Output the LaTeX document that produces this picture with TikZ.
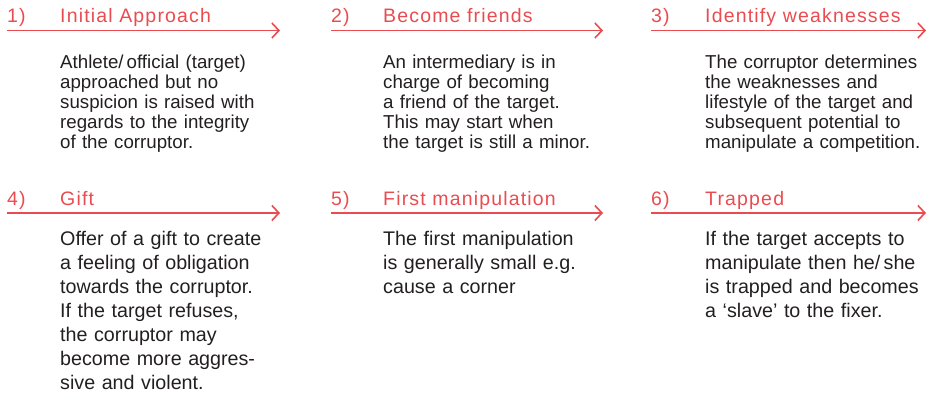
\documentclass[tikz,border=0pt]{standalone}
\usepackage{fontspec}
\setmainfont{Liberation Sans}
\newfontfamily\headfont[LetterSpace=6]{Liberation Sans}
\usetikzlibrary{positioning,arrows.meta}
\definecolor{fixred}{RGB}{233,76,80}
\definecolor{fixtext}{RGB}{35,31,32}

\begin{document}
\begin{tikzpicture}[
    x=1pt, y=-1pt,
    num/.style={%
      anchor=base west,
      inner sep=0pt,
      text=fixred,
      font=\headfont\fontsize{19.5}{22}\selectfont,
    },
    head/.style={num},
    body/.style={%
      anchor=base west,
      inner sep=0pt,
      text=fixtext,
      text width=240pt,
      align=left,
      font=\fontsize{18.7}{20}\selectfont,
    },
    bodylow/.style={%
      body,
      font=\fontsize{19.7}{24}\selectfont,
    },
    flow/.style={%
      draw=fixred,
      line width=1.6pt,
      -{Straight Barb[length=7pt,width=15pt]},
    },
  ]
    \useasboundingbox (0,0) rectangle (927,395);

    % upper row
    \node [num] (n1) at (7,22.5) {1)};
    \node [num] (n2) at (331,22.5) {2)};
    \node [num] (n3) at (651,22.5) {3)};
    \path (n1.base west) ++(53,0) node [head] (t1) {Initial Approach};
    \path (n2.base west) ++(52,0) node [head] (t2) {Become friends};
    \path (n3.base west) ++(54,0) node [head] (t3) {Identify weaknesses};
    \path (t1.base west) ++(0,46) node [body] (b1) {Athlete/\,official (target)\\approached but no\\suspicion is raised with\\regards to the integrity\\of the corruptor.};
    \path (t2.base west) ++(0,46) node [body] (b2) {An intermediary is in\\charge of becoming\\a friend of the target.\\This may start when\\the target is still a minor.};
    \path (t3.base west) ++(0,46) node [body] (b3) {The corruptor determines\\the weaknesses and\\lifestyle of the target and\\subsequent potential to\\manipulate a competition.};

    % lower row
    \node [num] (n4) at (7,206) {4)};
    \node [num] (n5) at (331,206) {5)};
    \node [num] (n6) at (651,206) {6)};
    \path (n4.base west) ++(53,0) node [head] (t4) {Gift};
    \path (n5.base west) ++(52,0) node [head] (t5) {First manipulation};
    \path (n6.base west) ++(54,0) node [head] (t6) {Trapped};
    \path (t4.base west) ++(0,40) node [bodylow] (b4) {Offer of a gift to create\\a feeling of obligation\\towards the corruptor.\\If the target refuses,\\the corruptor may\\become more aggres-\\sive and violent.};
    \path (t5.base west) ++(0,40) node [bodylow] (b5) {The first manipulation\\is generally small e.g.\\cause a corner};
    \path (t6.base west) ++(0,40) node [bodylow] (b6) {If the target accepts to\\manipulate then he/\,she\\is trapped and becomes\\a `slave' to the fixer.};

    \coordinate (e1) at (280,30.5);
    \coordinate (e2) at (603,30.5);
    \coordinate (e3) at (926,30.5);
    \coordinate (e4) at (280,213);
    \coordinate (e5) at (603,213);
    \coordinate (e6) at (926,213);

    \draw [flow] (n1.base west |- e1) -- (e1);
    \draw [flow] (n2.base west |- e2) -- (e2);
    \draw [flow] (n3.base west |- e3) -- (e3);
    \draw [flow] (n4.base west |- e4) -- (e4);
    \draw [flow] (n5.base west |- e5) -- (e5);
    \draw [flow] (n6.base west |- e6) -- (e6);
\end{tikzpicture}
\end{document}
